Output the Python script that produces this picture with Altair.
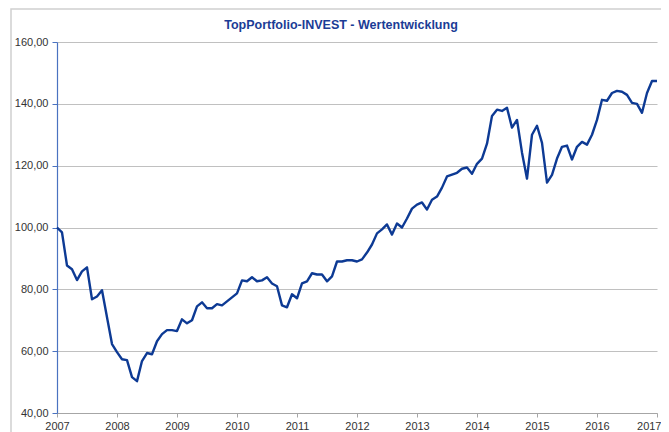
import altair as alt
import pandas as pd

# Monthly values, Jan 2007 .. Jan 2017
values = [
    100.0, 98.4, 87.7, 86.5, 83.0, 85.8, 87.1, 76.8, 77.7, 79.7, 71.0, 62.3,
    59.7, 57.4, 57.1, 51.6, 50.3, 56.8, 59.4, 59.0, 63.2, 65.5, 66.8, 66.8,
    66.5, 70.3, 69.0, 70.0, 74.5, 75.8, 73.9, 73.9, 75.2, 74.8, 76.1, 77.4,
    78.7, 82.9, 82.6, 83.9, 82.6, 82.9, 83.9, 81.9, 81.0, 74.8, 74.2, 78.4,
    77.1, 81.9, 82.6, 85.2, 84.8, 84.8, 82.6, 84.2, 89.0, 89.0, 89.4, 89.4,
    89.0, 89.7, 91.9, 94.5, 98.1, 99.4, 101.0, 97.7, 101.3, 100.0, 102.9, 106.1,
    107.4, 108.1, 105.8, 109.0, 110.0, 112.9, 116.5, 117.1, 117.7, 119.0, 119.4, 117.4,
    120.6, 122.3, 127.1, 136.1, 138.1, 137.7, 138.7, 132.3, 134.8, 124.2, 115.8, 130.0,
    132.9, 127.4, 114.5, 117.0, 122.3, 126.1, 126.5, 122.0, 126.1, 127.7, 126.8, 130.0,
    134.8, 141.3, 141.0, 143.5, 144.2, 143.9, 142.9, 140.3, 140.0, 137.1, 143.5, 147.4,
    147.4,
]
start_year = 2007
year_ticks = list(range(2007, 2018))
y_ticks = [40, 60, 80, 100, 120, 140, 160]
title_text = "TopPortfolio-INVEST - Wertentwicklung"

df = pd.DataFrame({
    "t": [start_year + i / 12 for i in range(len(values))],
    "v": values,
})

font = "Liberation Sans"

line = alt.Chart(df).mark_line(color="#0d3a94", strokeWidth=2.4, strokeJoin="round").encode(
    x=alt.X("t:Q",
            scale=alt.Scale(domain=[2007, 2017], nice=False, zero=False),
            axis=alt.Axis(values=year_ticks, format="d", title=None, grid=False,
                          domainColor="#a6a6a6", tickColor="#a6a6a6", tickSize=4,
                          labelFont=font, labelFontSize=11, labelColor="#333333",
                          labelPadding=3, labelFlush=False,
                          labelAlign=alt.ExprRef(expr="datum.value >= 2017 ? 'right' : 'center'"),
                          labelOffset=alt.ExprRef(expr="datum.value >= 2017 ? 4 : 0"))),
    y=alt.Y("v:Q",
            scale=alt.Scale(domain=[40, 160], nice=False, zero=False),
            axis=alt.Axis(values=y_ticks, title=None, grid=True, gridColor="#c0c0c0",
                          gridWidth=1.2,
                          labelExpr="replace(format(datum.value, '.2f'), '.', ',')",
                          domainColor="#4a72c0", domainWidth=1.2, tickColor="#4a72c0",
                          tickSize=5, labelFont=font, labelFontSize=11,
                          labelColor="#333333", labelPadding=4)),
)

frame = alt.Chart(pd.DataFrame({"a": [0]})).mark_rect(
    fill=None, stroke="#d0d0d0", strokeWidth=1.5
).encode(
    x=alt.value(-46), x2=alt.value(700), y=alt.value(-33), y2=alt.value(500)
)

title = alt.Chart(pd.DataFrame({"label": [title_text]})).mark_text(
    font=font, fontSize=12.5, fontWeight="bold", color="#1b3c96",
    align="center", baseline="alphabetic"
).encode(
    x=alt.value(284), y=alt.value(-13), text="label:N"
)

chart = alt.layer(frame, line, title).properties(
    width=600,
    height=371,
    padding={"left": 49, "top": 34, "right": 4, "bottom": 19},
    autosize=alt.AutoSizeParams(type="none"),
).configure_view(stroke=None)

chart.save("out.html", embed_options={"renderer": "svg", "actions": False})
